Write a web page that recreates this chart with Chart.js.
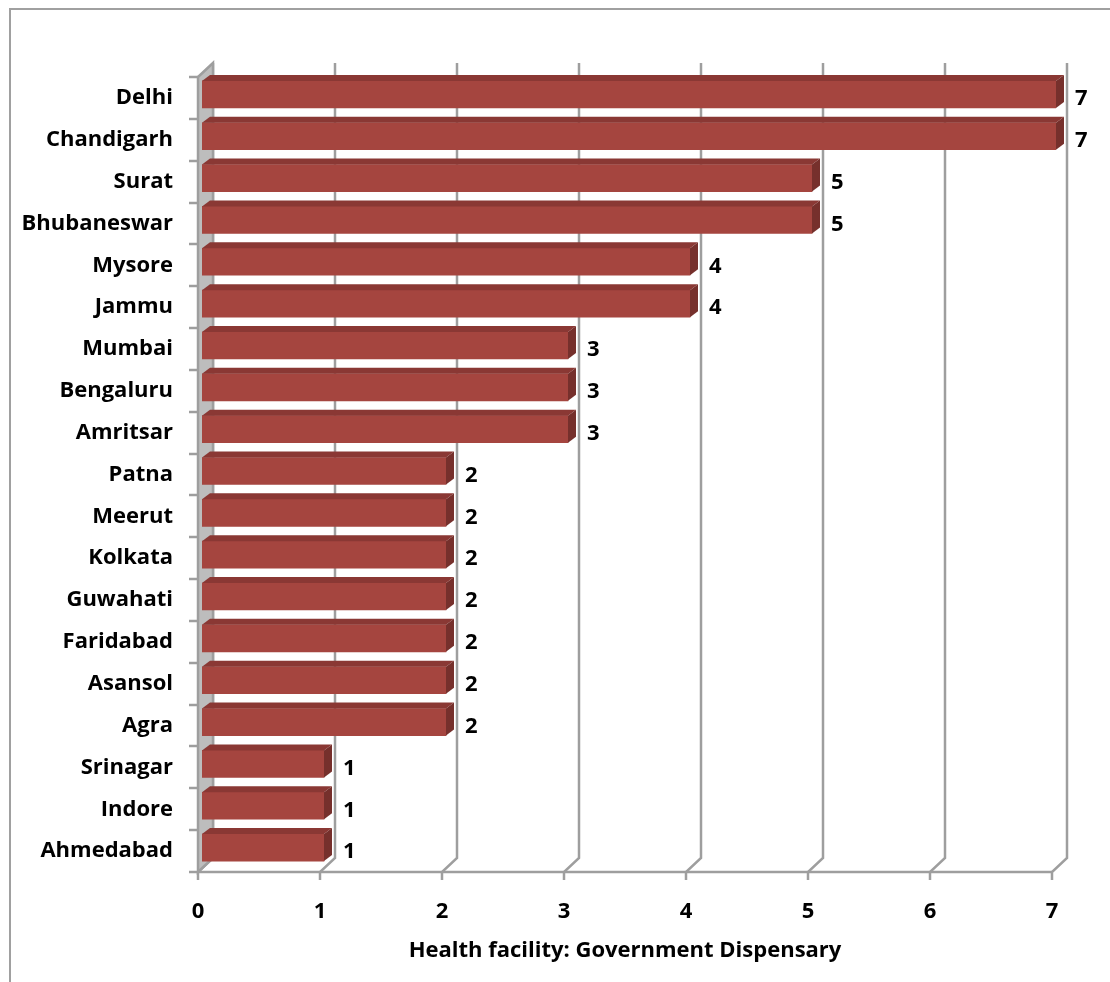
<!DOCTYPE html>
<html>
<head>
<meta charset="utf-8">
<title>Government Dispensary</title>
<script src="https://cdn.jsdelivr.net/npm/chart.js@4/dist/chart.umd.min.js"></script>
<style>
    html, body { margin: 0; padding: 0; background: #fff; }
    #wrap { width: 1110px; height: 982px; }
</style>
</head>
<body>
<div id="wrap"><canvas id="chart" width="1110" height="982"></canvas></div>
<script>
// Данные по городам
const cities = ['Delhi', 'Chandigarh', 'Surat', 'Bhubaneswar', 'Mysore', 'Jammu', 'Mumbai',
    'Bengaluru', 'Amritsar', 'Patna', 'Meerut', 'Kolkata', 'Guwahati', 'Faridabad',
    'Asansol', 'Agra', 'Srinagar', 'Indore', 'Ahmedabad'];
const dispensaries = [7, 7, 5, 5, 4, 4, 3, 3, 3, 2, 2, 2, 2, 2, 2, 2, 1, 1, 1];
const xTicks = [0, 1, 2, 3, 4, 5, 6, 7];
const axisTitle = 'Health facility: Government Dispensary';

// Параметры псевдо-3D
const wallDepth = { dx: 15, dy: 14 };
const barDepth = { dx: 8, dy: 6 };
const barShift = { dx: 4, dy: -3.5 };
const gridColor = '#9e9e9e';
const labelFont = "bold 22px 'Open Sans', 'DejaVu Sans', sans-serif";

Chart.defaults.font.family = "'Open Sans', 'DejaVu Sans', sans-serif";
Chart.defaults.font.weight = 'bold';
Chart.defaults.color = '#000';

// Рамка, стенка и сетка (под столбиками)
const backdrop = {
    id: 'backdrop',
    beforeDatasetsDraw(chart) {
        const ctx = chart.ctx;
        const { left, right, top, bottom } = chart.chartArea;
        const x = chart.scales.x;

        ctx.save();
        // рамка
        ctx.strokeStyle = '#a0a0a0';
        ctx.lineWidth = 2;
        ctx.beginPath();
        ctx.moveTo(10, 982);
        ctx.lineTo(10, 9);
        ctx.lineTo(1110, 9);
        ctx.stroke();

        // задние линии сетки и пол
        ctx.strokeStyle = gridColor;
        ctx.lineWidth = 2.5;
        xTicks.forEach(t => {
            const px = x.getPixelForValue(t);
            ctx.beginPath();
            ctx.moveTo(px + wallDepth.dx, top - wallDepth.dy);
            ctx.lineTo(px + wallDepth.dx, bottom - wallDepth.dy);
            ctx.lineTo(px, bottom);
            ctx.lineTo(px, bottom + 8);
            ctx.stroke();
        });
        ctx.beginPath();
        ctx.moveTo(left, bottom);
        ctx.lineTo(right, bottom);
        ctx.stroke();

        // левая стенка
        ctx.fillStyle = '#bdbdbd';
        ctx.beginPath();
        ctx.moveTo(left, top);
        ctx.lineTo(left + wallDepth.dx, top - wallDepth.dy);
        ctx.lineTo(left + wallDepth.dx, bottom - wallDepth.dy);
        ctx.lineTo(left, bottom);
        ctx.closePath();
        ctx.fill();
        ctx.stroke();

        // засечки оси категорий
        const band = (bottom - top) / cities.length;
        for (let i = 0; i <= cities.length; i++) {
            const py = Math.round(top + i * band);
            ctx.beginPath();
            ctx.moveTo(left - 9, py);
            ctx.lineTo(left, py);
            ctx.stroke();
        }
        ctx.restore();

        // сдвиг передних граней столбиков
        ctx.save();
        ctx.translate(barShift.dx, barShift.dy);
    },
    afterDatasetsDraw(chart) {
        const ctx = chart.ctx;
        ctx.restore();

        const meta = chart.getDatasetMeta(0);
        ctx.save();
        meta.data.forEach((bar, i) => {
            const x0 = bar.base + barShift.dx;
            const x1 = bar.x + barShift.dx;
            const y0 = bar.y - bar.height / 2 + barShift.dy;
            const y1 = bar.y + bar.height / 2 + barShift.dy;

            // верхняя грань
            ctx.fillStyle = '#8a3834';
            ctx.beginPath();
            ctx.moveTo(x0, y0);
            ctx.lineTo(x1, y0);
            ctx.lineTo(x1 + barDepth.dx, y0 - barDepth.dy);
            ctx.lineTo(x0 + barDepth.dx, y0 - barDepth.dy);
            ctx.closePath();
            ctx.fill();

            // боковая грань
            ctx.fillStyle = '#76302c';
            ctx.beginPath();
            ctx.moveTo(x1, y0);
            ctx.lineTo(x1 + barDepth.dx, y0 - barDepth.dy);
            ctx.lineTo(x1 + barDepth.dx, y1 - barDepth.dy);
            ctx.lineTo(x1, y1);
            ctx.closePath();
            ctx.fill();

            // подпись значения
            ctx.fillStyle = '#000';
            ctx.font = labelFont;
            ctx.textAlign = 'left';
            ctx.textBaseline = 'middle';
            ctx.fillText(String(dispensaries[i]), x1 + 19, bar.y + 1);
        });
        ctx.restore();
    }
};

new Chart(document.getElementById('chart'), {
    type: 'bar',
    data: {
        labels: cities,
        datasets: [{
            data: dispensaries,
            backgroundColor: '#a5453f',
            borderWidth: 0,
            barThickness: 27
        }]
    },
    options: {
        indexAxis: 'y',
        responsive: false,
        animation: false,
        devicePixelRatio: 1,
        layout: { padding: { top: 77, right: 58, left: 0, bottom: 18 } },
        plugins: {
            legend: { display: false },
            tooltip: { enabled: false }
        },
        scales: {
            x: {
                min: 0,
                max: 7,
                grid: { display: false },
                border: { display: false },
                ticks: { stepSize: 1, padding: 19, font: { size: 22, weight: 'bold' } },
                title: {
                    display: true,
                    text: axisTitle,
                    font: { size: 22, weight: 'bold' },
                    padding: { top: 6, bottom: 0 }
                },
                afterFit(scale) { scale.height = 982 - 18 - 872; }
            },
            y: {
                grid: { display: false },
                border: { display: false },
                ticks: { padding: 17, font: { size: 22, weight: 'bold' } },
                afterFit(scale) { scale.width = 198; }
            }
        }
    },
    plugins: [backdrop]
});
</script>
</body>
</html>
